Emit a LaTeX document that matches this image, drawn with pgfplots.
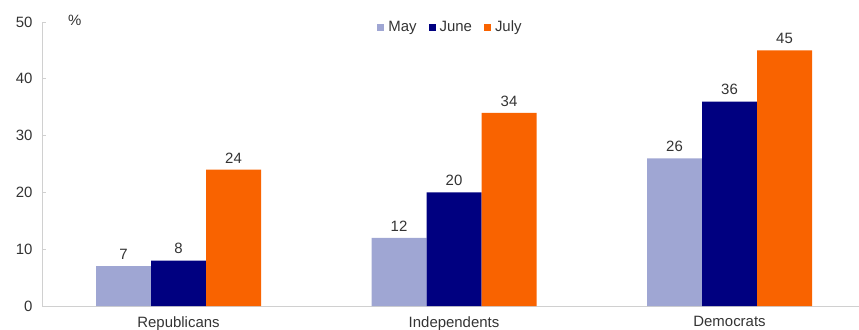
\documentclass[border=0pt]{standalone}
\usepackage{pgfplots}
\pgfplotsset{compat=1.18}
\usepackage{fontspec}
\setmainfont{Liberation Sans}
\definecolor{cMay}{HTML}{9FA6D3}
\definecolor{cJune}{HTML}{000080}
\definecolor{cJuly}{HTML}{F96300}
\definecolor{txt}{HTML}{333333}
\definecolor{axgray}{HTML}{D0D0D0}
\begin{document}
\begin{tikzpicture}
\path[use as bounding box] (0,0) rectangle (859bp,330bp);
\begin{axis}[
  at={(42bp,24bp)}, anchor=south west,
  scale only axis, width=817bp, height=284bp,
  ymin=0, ymax=50, ytick={0,10,...,50},
  xmin=-0.4955, xmax=2.470,
  xtick={0,1,2}, xticklabels={Republicans,Independents,Democrats},
  axis x line*=bottom, axis y line*=left,
  axis line style={axgray, line width=0.8pt},
  y axis line style={-}, x axis line style={-},
  major tick length=4bp,
  ytick style={axgray, line width=0.8pt},
  xtick style={draw=none},
  tick label style={font=\fontsize{15}{17}\selectfont, text=txt},
  /pgf/number format/assume math mode=true,
  yticklabel style={xshift=-6bp},
  xticklabel style={yshift=-3bp},
  ybar, bar width=55bp,
  nodes near coords,
  every node near coord/.append style={font=\fontsize{15}{17}\selectfont, text=txt, yshift=3bp},
  legend style={draw=none, fill=none, at={(rel axis cs:0.5,0.982)}, anchor=center,
    legend columns=-1, font=\fontsize{15}{17}\selectfont, text=txt,
    /tikz/every even column/.append style={column sep=10bp},
    /tikz/every odd column/.append style={column sep=2bp}},
  legend image code/.code={\fill[#1] (0bp,-3.5bp) rectangle (7bp,3.5bp);},
  clip=false,
]
\addplot[fill=cMay, draw=none, bar shift=-55bp] coordinates {(0,7) (1,12) (2,26)};
\addplot[fill=cJune, draw=none, bar shift=0bp] coordinates {(0,8) (1,20) (2,36)};
\addplot[fill=cJuly, draw=none, bar shift=55bp] coordinates {(0,24) (1,34) (2,45)};
\legend{May,June,July}
\node[font=\fontsize{15}{17}\selectfont, text=txt] at (rel axis cs:0.04,1.005) {\%};
\end{axis}
\end{tikzpicture}
\end{document}
